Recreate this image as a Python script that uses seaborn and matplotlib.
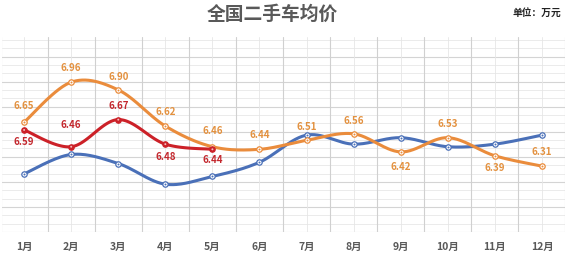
import numpy as np
import pandas as pd
import matplotlib
matplotlib.use("Agg")
import matplotlib.pyplot as plt
import seaborn as sns

# ---- data ----
months = ["1月", "2月", "3月", "4月", "5月", "6月", "7月", "8月", "9月", "10月", "11月", "12月"]
series_blue = [6.25, 6.40, 6.33, 6.17, 6.23, 6.34, 6.55, 6.48, 6.53, 6.46, 6.48, 6.55]
series_orange = [6.65, 6.96, 6.90, 6.62, 6.46, 6.44, 6.51, 6.56, 6.42, 6.53, 6.39, 6.31]
series_red = [6.59, 6.46, 6.67, 6.48, 6.44]
title = "全国二手车均价"
unit = "单位：万元"

# label offsets in pixels (style only)
orange_off = [16, 14, 13, 14, 16, 14, 13, 13, -15, 14, -12, 14]
red_off = [-12, 22, 14, -13, -11]

C_BLUE = "#4A70B8"
C_ORANGE = "#EA8C3C"
C_ORANGE_T = "#E3913F"
C_RED = "#CC2128"
C_RED_T = "#C3272D"
C_GRAY = "#595959"

sns.set_theme(style="white")
plt.rcParams["font.family"] = ["Noto Sans CJK SC", "DejaVu Sans"]


def smooth(xs, ys, n=30):
    xs = np.asarray(xs, float)
    ys = np.asarray(ys, float)
    P = np.column_stack([xs, ys])
    out = []
    m = len(P)
    for i in range(m - 1):
        p0 = P[i - 1] if i > 0 else P[i]
        p1 = P[i]
        p2 = P[i + 1]
        p3 = P[i + 2] if i + 2 < m else P[i + 1]
        c1 = p1 + (p2 - p0) / 6.0
        c2 = p2 - (p3 - p1) / 6.0
        t = np.linspace(0, 1, n, endpoint=(i == m - 2))[:, None]
        seg = ((1 - t) ** 3) * p1 + 3 * ((1 - t) ** 2) * t * c1 + 3 * (1 - t) * t ** 2 * c2 + t ** 3 * p2
        out.append(seg)
    out = np.vstack(out)
    return out[:, 0], out[:, 1]


fig = plt.figure(figsize=(5.67, 2.54), dpi=100)
ax = fig.add_axes([0.0035, 0.0866, 0.993, 0.768])

x_all = np.arange(1, 13)
ymin, ymax = 5.80, 7.31
ax.set_xlim(0.53, 12.49)
ax.set_ylim(ymin, ymax)

# grid (cell-like background)
step = 0.194
majors = ymin + step * np.arange(0, 9)
minors = ymin + step / 3 * np.arange(0, 26)
for v in minors:
    ax.axhline(v, color="#E8E8E8", lw=0.6, zorder=0)
for v in majors:
    ax.axhline(v, color="#D4D4D4", lw=0.8, zorder=0)
for v in x_all:
    ax.axvline(v, color="#E6E6E6", lw=0.6, zorder=0)
for v in np.arange(0.5, 13, 1.0):
    ax.axvline(v, color="#D0D0D0", lw=0.8, zorder=0)

for sp in ax.spines.values():
    sp.set_visible(False)


def draw(vals, color, z, mfc):
    xs = x_all[: len(vals)]
    sx, sy = smooth(xs, vals)
    df = pd.DataFrame({"x": sx, "y": sy})
    sns.lineplot(data=df, x="x", y="y", sort=False, estimator=None, color=color,
                 lw=2.2, ax=ax, zorder=z)
    dp = pd.DataFrame({"x": xs, "y": vals})
    sns.scatterplot(data=dp, x="x", y="y", s=15, color=mfc, edgecolor=color,
                    linewidth=0.9, ax=ax, zorder=z + 0.5)
    if mfc == "white":
        sns.scatterplot(data=dp, x="x", y="y", s=2, color=color, edgecolor=color,
                        linewidth=0, ax=ax, zorder=z + 0.6)
    else:
        sns.scatterplot(data=dp, x="x", y="y", s=2, color="#F4C0C0", edgecolor="none",
                        linewidth=0, ax=ax, zorder=z + 0.6)


draw(series_blue, C_BLUE, 3, "white")
draw(series_orange, C_ORANGE, 4, "white")
draw(series_red, C_RED, 5, C_RED)

for xi, v, off in zip(x_all, series_orange, orange_off):
    ax.annotate(f"{v:.2f}", (xi, v), xytext=(0, off), textcoords="offset pixels",
                ha="center", va="center", fontsize=7, fontweight="bold",
                color=C_ORANGE_T, zorder=10)
for xi, v, off in zip(x_all, series_red, red_off):
    ax.annotate(f"{v:.2f}", (xi, v), xytext=(0, off), textcoords="offset pixels",
                ha="center", va="center", fontsize=7, fontweight="bold",
                color=C_RED_T, zorder=10)

ax.set_xticks(x_all)
ax.set_xticklabels(months, fontsize=7.5, fontweight="bold", color=C_GRAY)
ax.tick_params(axis="x", length=0, pad=7)
ax.set_yticks([])
ax.set_xlabel("")
ax.set_ylabel("")

fig.text(0.48, 0.943, title, ha="center", va="center", fontsize=13.5, fontweight="bold", color=C_GRAY)
fig.text(0.99, 0.948, unit, ha="right", va="center", fontsize=7, fontweight="bold", color="#222222")

fig.savefig("out.png", dpi=100)
